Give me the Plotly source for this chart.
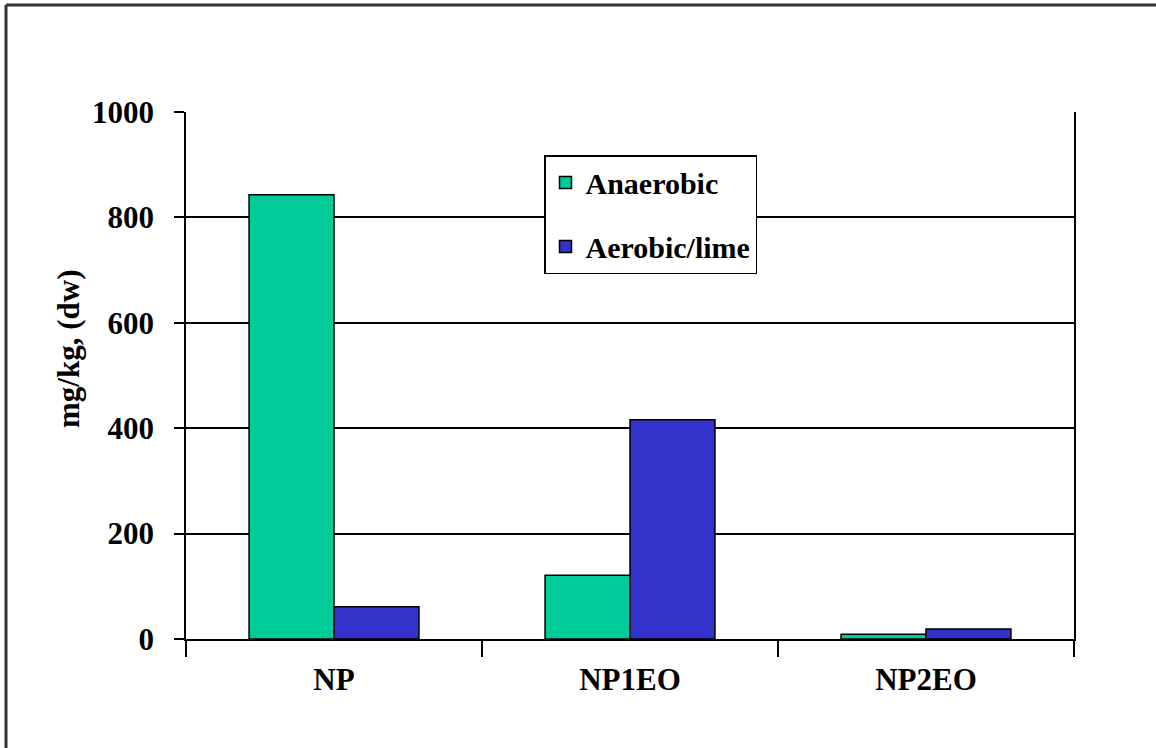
import plotly.graph_objects as go

# Nonylphenol compounds in sludge, by treatment
compounds = ["NP", "NP1EO", "NP2EO"]
anaerobic = [843, 121, 9]
aerobic_lime = [61, 416, 19]
y_ticks = [0, 200, 400, 600, 800, 1000]

W, H = 1156, 748
L, R, T, B = 186, 82, 112, 109
pw, ph = W - L - R, H - T - B

def px_x(px):
    return (px - L) / pw

def px_y(py):
    return (H - B - py) / ph

FONT = "Liberation Serif"

fig = go.Figure()
fig.add_trace(go.Bar(
    x=compounds, y=anaerobic, name="Anaerobic", legendgroup="a",
    marker=dict(color="#00CC99", line=dict(color="black", width=1.5)),
))
fig.add_trace(go.Bar(
    x=compounds, y=aerobic_lime, name="Aerobic/lime", legendgroup="b",
    marker=dict(color="#3333CC", line=dict(color="black", width=1.5)),
))

fig.update_layout(
    width=W, height=H,
    margin=dict(l=L, r=R, t=T, b=B, pad=0),
    paper_bgcolor="white", plot_bgcolor="white",
    barmode="group", bargap=0.426, bargroupgap=0,
    font=dict(family=FONT, size=30, color="black", weight="bold"),
    legend=dict(
        x=px_x(544), y=px_y(155), xanchor="left", yanchor="top",
        bgcolor="white", bordercolor="black", borderwidth=1.5,
        font=dict(family=FONT, size=30, color="black", weight="bold"),
        tracegroupgap=22, itemwidth=30,
    ),
    xaxis=dict(
        showline=True, linecolor="black", linewidth=1.5,
        ticks="outside", tickson="boundaries", ticklen=16,
        tickcolor="black", tickwidth=1.5,
        ticklabelstandoff=12,
        tickfont=dict(family=FONT, size=31, weight="bold"),
        showgrid=False,
    ),
    yaxis=dict(
        range=[0, 1000], tickvals=y_ticks,
        showline=True, mirror=True, linecolor="black", linewidth=1.5,
        showgrid=True, gridcolor="black", gridwidth=1.5,
        ticks="outside", ticklen=10, tickcolor="black", tickwidth=1.5,
        ticklabelstandoff=14,
        tickfont=dict(family=FONT, size=31, weight="bold"),
        zeroline=False,
    ),
    showlegend=True,
)

# Axis title
fig.add_annotation(
    text="mg/kg, (dw)", textangle=-90,
    xref="paper", yref="paper", x=px_x(68), y=px_y(349),
    xanchor="center", yanchor="middle", showarrow=False,
    font=dict(family=FONT, size=31, color="black", weight="bold"),
)

# Outer frame: left and top edges
frame = dict(color="#333333", width=3)
fig.add_shape(type="line", xref="paper", yref="paper",
              x0=px_x(6), x1=px_x(6), y0=px_y(5), y1=px_y(760), line=frame)
fig.add_shape(type="line", xref="paper", yref="paper",
              x0=px_x(6), x1=px_x(1170), y0=px_y(5), y1=px_y(5), line=frame)

fig.write_html("out.html")
